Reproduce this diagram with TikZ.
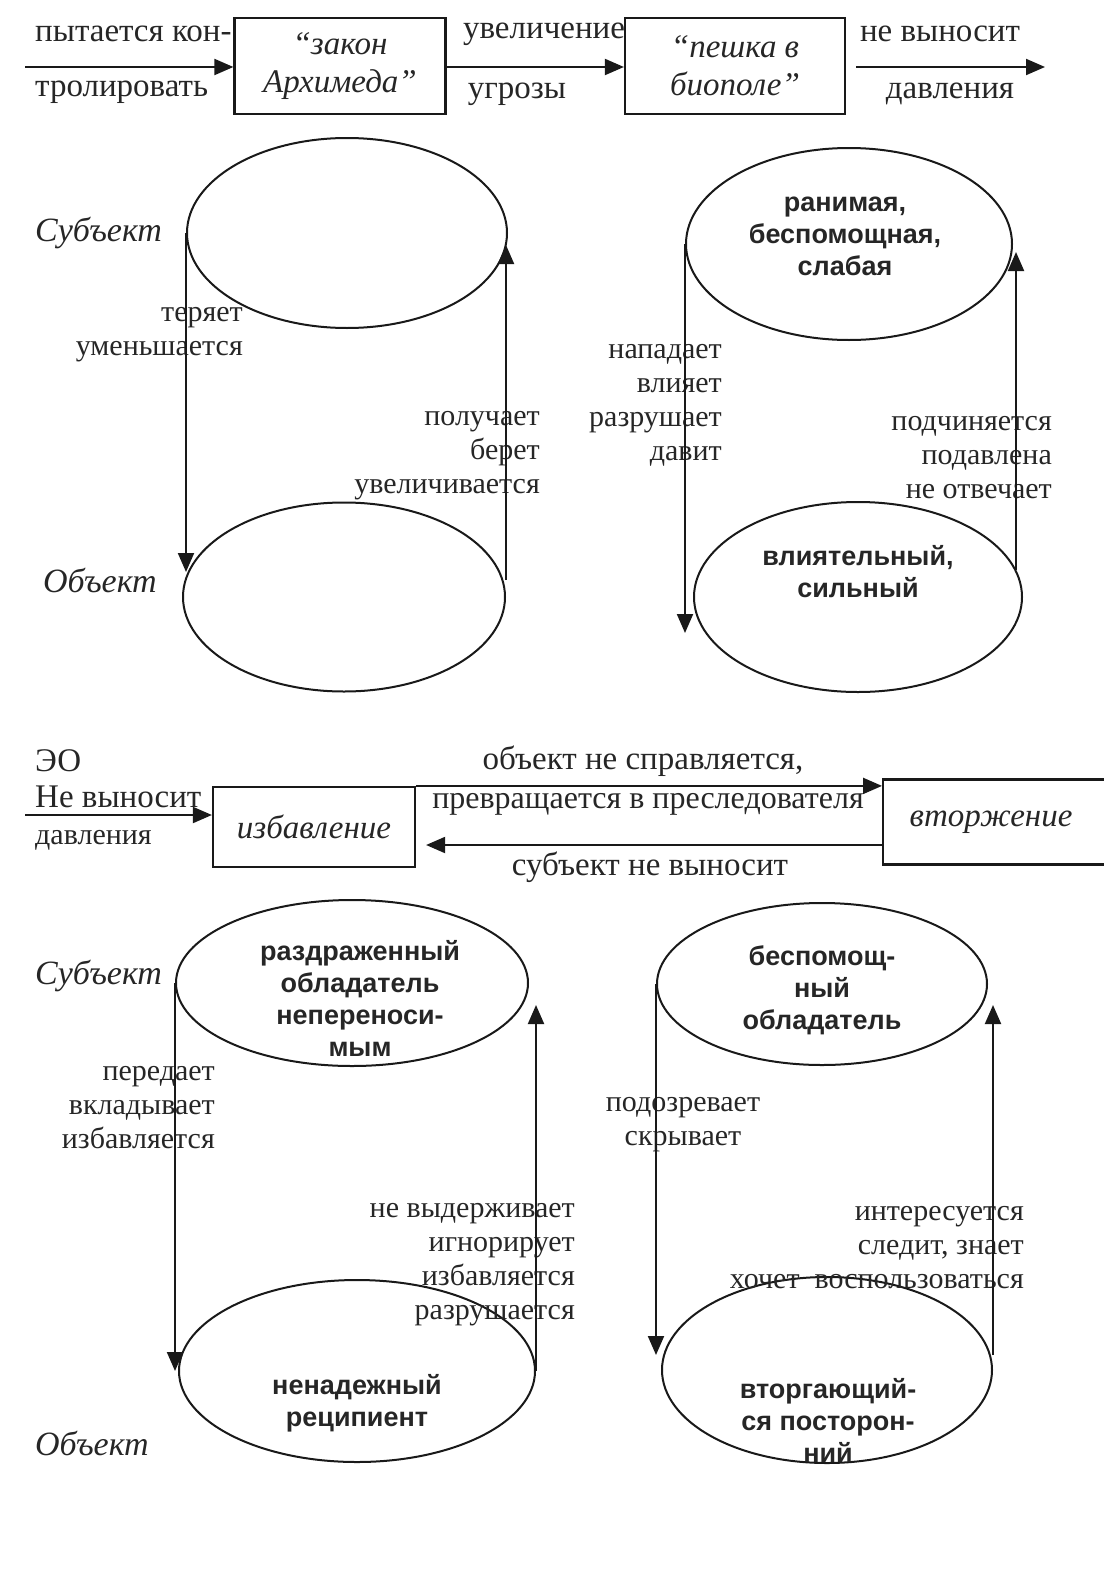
\documentclass[tikz,border=0pt]{standalone}
\usepackage{fontspec}
\setmainfont{Liberation Serif}
\setsansfont{Liberation Sans}
\usetikzlibrary{shapes.geometric, arrows.meta, positioning}

\begin{document}
\begin{tikzpicture}[
        x=1pt, y=-1pt,
        frameBox/.style={
            rectangle, draw=black!90, line width=2.2pt, inner sep=0pt,
            align=center, text=black!85, font=\fontsize{33}{38}\selectfont\itshape
        },
        poleEllipse/.style={
            ellipse, draw=black!90, line width=2pt, inner sep=0pt
        },
        poleText/.style={
            align=center, text=black!85, inner sep=0pt,
            font=\fontsize{27}{32}\selectfont\sffamily\bfseries
        },
        plainText/.style={
            align=center, text=black!85, inner sep=0pt, yshift=-4pt,
            font=\fontsize{30}{34}\selectfont
        },
        headText/.style={plainText, font=\fontsize{33}{34}\selectfont},
        verbText/.style={plainText, align=right, anchor=east},
        roleText/.style={
            anchor=west, text=black!85, inner sep=0pt, yshift=-3pt,
            font=\fontsize{34}{34}\selectfont\itshape
        },
        arrow/.style={
            line width=2pt, draw=black!90, -{Triangle[length=19pt, width=16pt]}
        }
    ]
        \useasboundingbox (0,0) rectangle (1103,1571);

        % Top row
        \coordinate (startA) at (25,67);
        \coordinate (exitA) at (1045,67);
        \node (lawBox) [frameBox, minimum width=211, minimum height=96] at (340,66) {“закон\\Архимеда”};
        \node (pawnBox) [frameBox, minimum width=220, minimum height=96] at (735,66) {“пешка в\\биополе”};
        \node (tryTop) [headText, anchor=west] at (35,30) {пытается кон-};
        \node (tryBot) [headText, anchor=west] at (35,88) {тролировать};
        \node (growTop) [headText] at (544,30) {увеличение};
        \node (growBot) [headText] at (517,90) {угрозы};
        \node (bearTop) [headText] at (940,30) {не выносит};
        \node (bearBot) [headText] at (950,90) {давления};

        \draw [arrow] (startA) -- (startA -| lawBox.west);
        \draw [arrow] (lawBox.east |- startA) -- (pawnBox.west |- startA);
        \draw [arrow] ([xshift=10pt]pawnBox.east |- startA) -- (exitA);

        % Upper cylinders
        \node (subjA) [poleEllipse, minimum width=320, minimum height=190] at (347,233) {};
        \node (objA) [poleEllipse, minimum width=322, minimum height=189] at (344,597) {};
        \node (subjB) [poleEllipse, minimum width=326, minimum height=192] at (849,244) {};
        \node (objB) [poleEllipse, minimum width=328, minimum height=190] at (858,597) {};

        \node (subjAlbl) [roleText] at (35,230) {Субъект};
        \node (objAlbl) [roleText] at (43,577) {Объект};

        \node (subjBtxt) [poleText] at (845,236) {ранимая,\\беспомощная,\\слабая};
        \node (objBtxt) [poleText] at (858,572) {влиятельный,\\сильный};

        \node (loseA) [verbText] at (243,331) {теряет\\уменьшается};
        \node (gainA) [verbText] at (540,452) {получает\\берет\\увеличивается};
        \node (pressB) [verbText] at (722,401) {нападает\\влияет\\разрушает\\давит};
        \node (yieldB) [verbText] at (1052,454) {подчиняется\\подавлена\\не отвечает};

        \draw [arrow] (subjA.west) -- ([yshift=25pt]subjA.west |- objA.west);
        \draw [arrow] ([yshift=17pt]objA.east) -- ([yshift=-12pt]objA.east |- subjA.east);
        \draw [arrow] (subjB.west) -- ([yshift=-36pt]subjB.west |- objB.west);
        \draw [arrow] ([xshift=3pt, yshift=27pt]subjB.east |- objB.east) -- ([xshift=3pt, yshift=-8pt]subjB.east);

        % Middle row
        \coordinate (startC) at (25,815);
        \node (eoLbl) [headText, anchor=west] at (35,757) {ЭО};
        \node (noBearTop) [headText, anchor=west] at (35,793) {Не выносит};
        \node (noBearBot) [plainText, anchor=west] at (35,836) {давления};
        \node (ridBox) [frameBox, minimum width=202, minimum height=80] at (314,827) {избавление};
        \node (invadeBox) [frameBox, minimum width=260, minimum height=85, anchor=west] at (882,822) {\hspace*{-44pt}вторжение};

        \node (failTop) [headText] at (643,757) {объект не справляется,};
        \node (failBot) [headText, font=\fontsize{32}{34}\selectfont] at (648,800) {превращается в преследователя};
        \node (backLbl) [headText] at (650,863) {субъект не выносит};

        \draw [arrow] (startC) -- (startC -| ridBox.west);
        \draw [arrow] (ridBox.north east) -- (ridBox.north east -| invadeBox.west);
        \draw [arrow] ([yshift=-23pt]invadeBox.west) -- ([yshift=-23pt, xshift=10pt]invadeBox.west -| ridBox.east);

        % Lower cylinders
        \node (subjC) [poleEllipse, minimum width=352, minimum height=166] at (352,983) {};
        \node (objC) [poleEllipse, minimum width=356, minimum height=182] at (357,1371) {};
        \node (subjD) [poleEllipse, minimum width=330, minimum height=162] at (822,984) {};
        \node (objD) [poleEllipse, minimum width=330, minimum height=186] at (827,1370) {};

        \node (subjClbl) [roleText] at (35,973) {Субъект};
        \node (objClbl) [roleText] at (35,1440) {Объект};

        \node (subjCtxt) [poleText] at (360,998) {раздраженный\\обладатель\\непереноси-\\мым};
        \node (objCtxt) [poleText] at (357,1403) {ненадежный\\реципиент};
        \node (subjDtxt) [poleText] at (822,990) {беспомощ-\\ный\\обладатель};
        \node (objDtxt) [poleText] at (828,1420) {вторгающий-\\ся посторон-\\ний};

        \node (handC) [verbText] at (215,1104) {передает\\вкладывает\\избавляется};
        \node (breakC) [verbText] at (575,1261) {не выдерживает\\игнорирует\\избавляется\\разрушается};
        \node (hideD) [plainText] at (683,1121) {подозревает\\скрывает};
        \node (watchD) [verbText] at (1024,1244) {интересуется\\следит, знает\\хочет~~воспользоваться};

        \draw [arrow] (subjC.west) -- (subjC.west |- objC.west);
        \draw [arrow] (objC.east) -- ([yshift=-22pt]objC.east |- subjC.east);
        \draw [arrow] (subjD.west) -- ([yshift=15pt]subjD.west |- objD.west);
        \draw [arrow] ([yshift=15pt]objD.east) -- ([yshift=-21pt]objD.east |- subjD.east);
    \end{tikzpicture}
\end{document}
